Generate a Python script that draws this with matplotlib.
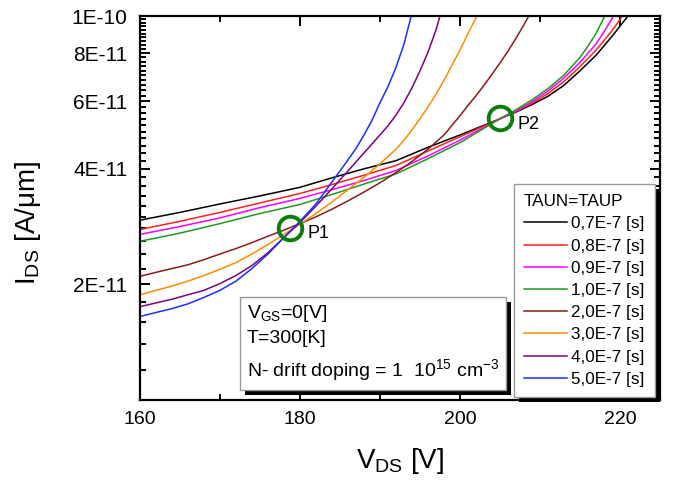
import matplotlib
matplotlib.use("Agg")
import matplotlib.pyplot as plt
from matplotlib.ticker import FixedLocator, FixedFormatter, MultipleLocator, NullFormatter
from matplotlib.patches import Rectangle

plt.rcParams['font.family'] = ['Liberation Sans', 'DejaVu Sans']
plt.rcParams['mathtext.fontset'] = 'custom'
plt.rcParams['mathtext.rm'] = 'Liberation Sans'
plt.rcParams['mathtext.it'] = 'Liberation Sans:italic'
plt.rcParams['mathtext.default'] = 'regular'

# I_DS in units of 1E-11 A/um
x_07 = [160, 165, 170, 175, 180, 184, 188, 192, 196, 200, 205, 207, 209, 211, 213, 215, 217, 219, 221]
i_07 = [2.94, 3.08, 3.24, 3.40, 3.58, 3.79, 4.00, 4.20, 4.55, 4.90, 5.40, 5.62, 5.88, 6.18, 6.60, 7.20, 7.90, 8.85, 10.0]
x_08 = [160, 165, 170, 175, 180, 184, 188, 192, 196, 200, 205, 207, 209, 211, 213, 215, 217, 219, 220.3]
i_08 = [2.78, 2.92, 3.08, 3.26, 3.45, 3.64, 3.85, 4.08, 4.45, 4.85, 5.40, 5.64, 5.93, 6.28, 6.75, 7.38, 8.15, 9.15, 10.0]
x_09 = [160, 165, 170, 175, 180, 184, 188, 192, 196, 200, 205, 207, 209, 211, 213, 215, 217, 218, 219.2]
i_09 = [2.70, 2.83, 2.98, 3.17, 3.35, 3.53, 3.73, 3.96, 4.32, 4.75, 5.40, 5.66, 5.98, 6.38, 6.90, 7.58, 8.45, 9.10, 10.0]
x_10 = [160, 165, 170, 175, 180, 184, 188, 192, 196, 200, 205, 207, 209, 211, 213, 215, 216, 217, 218.1]
i_10 = [2.59, 2.72, 2.88, 3.06, 3.23, 3.43, 3.65, 3.88, 4.25, 4.68, 5.40, 5.70, 6.05, 6.47, 7.02, 7.80, 8.35, 9.00, 10.0]

x_20 = [160, 162, 164, 166, 168, 170, 172, 174, 176, 178, 180, 182, 184, 186, 188, 190, 192, 194,
        196, 198, 200, 201, 202, 203, 204, 205, 206, 207, 208, 208.6]
i_20 = [2.10, 2.15, 2.20, 2.25, 2.32, 2.40, 2.48, 2.57, 2.67, 2.77, 2.88, 3.00, 3.14, 3.30, 3.48, 3.68, 3.91, 4.18,
        4.50, 4.90, 5.50, 5.85, 6.20, 6.60, 7.05, 7.55, 8.10, 8.75, 9.50, 10.0]

x_30 = [160, 162, 164, 166, 168, 170, 172, 174, 176, 178, 180, 182, 184, 186, 188, 190, 192, 193,
        194, 195, 196, 197, 198, 199, 200, 201, 202.1]
i_30 = [1.88, 1.93, 1.98, 2.04, 2.11, 2.19, 2.28, 2.40, 2.54, 2.70, 2.87, 3.06, 3.28, 3.53, 3.80, 4.12, 4.50, 4.75,
        5.05, 5.40, 5.80, 6.25, 6.80, 7.45, 8.15, 9.00, 10.0]

x_40 = [160, 162, 164, 166, 168, 170, 172, 174, 176, 178, 180, 182, 184, 186, 188, 190, 191, 192,
        193, 194, 195, 196, 197, 197.5]
i_40 = [1.75, 1.79, 1.83, 1.88, 1.93, 2.01, 2.11, 2.24, 2.42, 2.65, 2.90, 3.20, 3.55, 3.95, 4.40, 4.90, 5.18, 5.52,
        5.95, 6.50, 7.20, 8.05, 9.20, 10.0]

x_50 = [160, 162, 164, 166, 168, 170, 172, 174, 176, 178, 180, 182, 184, 185, 186, 187, 188, 189,
        190, 191, 192, 193, 193.9]
i_50 = [1.65, 1.69, 1.73, 1.78, 1.85, 1.93, 2.04, 2.20, 2.40, 2.65, 2.92, 3.24, 3.70, 3.95, 4.22, 4.52, 4.90, 5.35,
        5.95, 6.55, 7.35, 8.45, 10.0]

series_x = [x_07, x_08, x_09, x_10, x_20, x_30, x_40, x_50]
series_i = [i_07, i_08, i_09, i_10, i_20, i_30, i_40, i_50]
labels = ['0,7E-7 [s]', '0,8E-7 [s]', '0,9E-7 [s]', '1,0E-7 [s]',
          '2,0E-7 [s]', '3,0E-7 [s]', '4,0E-7 [s]', '5,0E-7 [s]']
colors = ['#000000', '#ff2020', '#ff00ff', '#1f9a1f',
          '#8b1a1a', '#ff8c00', '#800080', '#1a2fff']

# crossing points
pt_names = ['P1', 'P2']
pt_v = [178.7, 205.0]
pt_i = [2.81, 5.41]

y_major = [2e-11, 4e-11, 6e-11, 8e-11, 1e-10]
y_major_labels = ['2E-11', '4E-11', '6E-11', '8E-11', '1E-10']
y_minor = [k * 2e-12 for k in range(5, 51)]

fig = plt.figure(figsize=(6.8, 4.88), dpi=100)
ax = fig.add_axes([140 / 680, 1 - 400 / 488, 520 / 680, 384 / 488])

for xs, ys, lab, c in zip(series_x, series_i, labels, colors):
    ax.plot(xs, [v * 1e-11 for v in ys], color=c, lw=1.1, label=lab)

for name, v, i in zip(pt_names, pt_v, pt_i):
    ax.plot(v, i * 1e-11, 'o', ms=17, mfc='none', mec='#0b7d0b', mew=2.8, zorder=4)
    ax.text(v + 2.2, i * 1e-11 * 0.965, name, fontsize=13, va='center', ha='left')

ax.set_yscale('log')
ax.set_xlim(160, 225)
ax.set_ylim(1e-11, 1e-10)

ax.xaxis.set_major_locator(MultipleLocator(20))
ax.xaxis.set_minor_locator(MultipleLocator(10))
ax.yaxis.set_major_locator(FixedLocator(y_major))
ax.yaxis.set_major_formatter(FixedFormatter(y_major_labels))
ax.yaxis.set_minor_locator(FixedLocator(y_minor))
ax.yaxis.set_minor_formatter(NullFormatter())

ax.tick_params(which='both', direction='in', top=True, right=True, width=1.4)
ax.tick_params(which='major', length=7)
ax.tick_params(which='minor', length=4)
ax.tick_params(axis='x', pad=8, labelsize=14)
ax.tick_params(axis='y', pad=9, labelsize=15)
for sp in ax.spines.values():
    sp.set_linewidth(1.6)

ax.set_xlabel(r'V$_{\rm DS}$ [V]', fontsize=20, va='center')
ax.xaxis.set_label_coords(0.5, -0.16)
ax.set_ylabel(r'I$_{\rm DS}$ [A/μm]', fontsize=20, va='center')
ax.yaxis.set_label_coords(-0.215, 0.461)

leg = ax.legend(loc='lower right', bbox_to_anchor=(0.99, 0.008), fontsize=12.3,
                title='TAUN=TAUP', title_fontsize=12.3, alignment='left',
                frameon=True, fancybox=False, edgecolor='#999999',
                handlelength=2.5, handletextpad=0.25, labelspacing=0.42,
                borderpad=0.6, borderaxespad=0)
leg.get_frame().set_linewidth(1.0)
leg.get_frame().set_alpha(1)
leg.set_zorder(6)

txt = ax.text(0.206, 0.045,
              'V$_{\\rm GS}$=0[V]\nT=300[K]\nN- drift doping = 1  10$^{15}$ cm$^{-3}$',
              transform=ax.transAxes, fontsize=14, ha='left', va='bottom',
              linespacing=1.5, zorder=6,
              bbox=dict(boxstyle='square,pad=0.35', fc='white', ec='#999999', lw=1.0))

# black drop shadows behind the two boxes
fig.canvas.draw()
inv = fig.transFigure.inverted()
for bb in [leg.get_frame().get_window_extent(), txt.get_bbox_patch().get_window_extent()]:
    (x0, y0), (x1, y1) = inv.transform([[bb.x0 + 5, bb.y0 - 5], [bb.x1 + 5, bb.y1 - 5]])
    ax.add_patch(Rectangle((x0, y0), x1 - x0, y1 - y0, transform=fig.transFigure,
                           fc='black', ec='none', zorder=5.5, clip_on=False))

fig.savefig('out.png', dpi=100)
